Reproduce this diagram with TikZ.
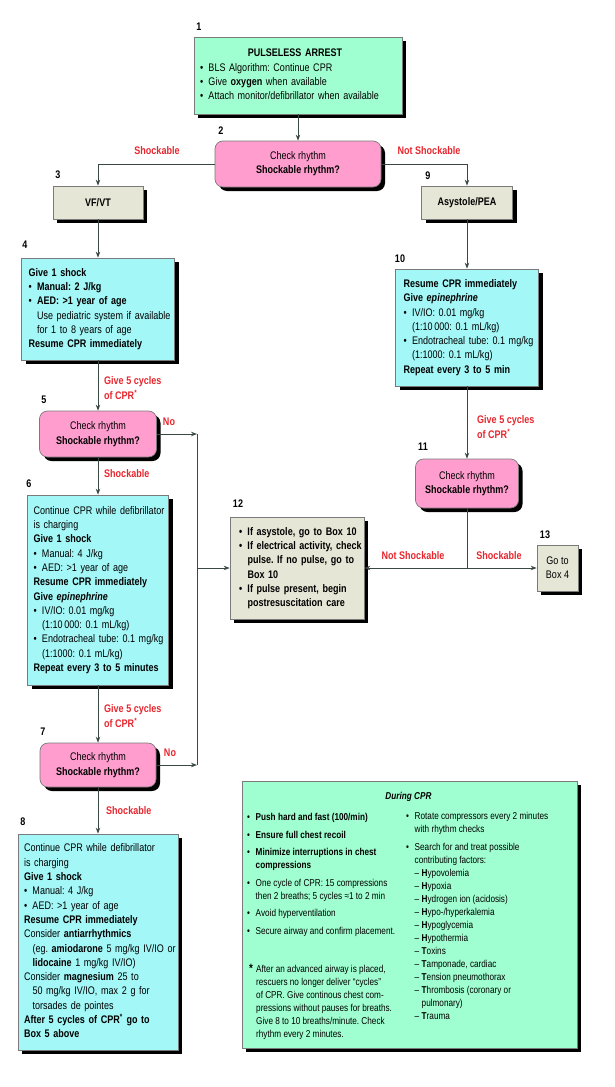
\documentclass[tikz,border=0pt]{standalone}
\usepackage{fontspec}
\setmainfont{Liberation Sans}[FakeStretch=0.82]
\usetikzlibrary{arrows.meta,shadows}
\frenchspacing

\definecolor{mintfill}{HTML}{A0FFD0}
\definecolor{cyanfill}{HTML}{A3F7F7}
\definecolor{pinkfill}{HTML}{FF9ECE}
\definecolor{greyfill}{HTML}{E6E6D6}
\definecolor{edgecol}{HTML}{7A7A7A}
\definecolor{linecol}{HTML}{3A4842}
\definecolor{labelred}{HTML}{E8262E}

\newcommand{\boxfont}{\fontsize{11}{14.3}\selectfont}
\newcommand{\cprfont}{\fontsize{10}{13}\selectfont}
\newcommand{\bul}{\makebox[8.5pt][l]{\textbullet}}
\newcommand{\ind}{\hspace*{8.5pt}}
\newcommand{\dsh}{\makebox[7pt][l]{–}}
\newcommand{\boxrows}[1]{\begin{tabular}{@{}l@{}}#1\end{tabular}}

\tikzset{
  box/.style={draw=edgecol, line width=0.7pt, inner xsep=6pt, inner ysep=0pt,
    align=left, font=\boxfont,
    drop shadow={shadow xshift=4pt, shadow yshift=-4pt, fill=black, opacity=1}},
  mintbox/.style={box, fill=mintfill},
  cyanbox/.style={box, fill=cyanfill},
  greybox/.style={box, fill=greyfill},
  pinkbox/.style={box, fill=pinkfill, rounded corners=8pt, align=center},
  num/.style={inner sep=0pt, font=\boxfont\bfseries},
  redlbl/.style={inner sep=0pt, text=labelred, font=\boxfont\bfseries, align=left},
  link/.style={draw=linecol, line width=0.9pt},
}

\begin{document}
\begin{tikzpicture}[x=1pt, y=-1pt, >={Stealth[length=6pt,width=4.5pt]}]

\useasboundingbox (0,0) rectangle (615,1087);

% box numbers
\node[num] (n1) at (199,27) {1};
\node[num] (n2) at (221,131) {2};
\node[num] (n3) at (58,175) {3};
\node[num] (n9) at (428,176) {9};
\node[num] (n4) at (25,245) {4};
\node[num] (n10) at (400,259) {10};
\node[num] (n5) at (44,400) {5};
\node[num] (n11) at (423,447) {11};
\node[num] (n6) at (29,484) {6};
\node[num] (n12) at (238,504) {12};
\node[num] (n13) at (545,535) {13};
\node[num] (n7) at (43,732) {7};
\node[num] (n8) at (23,822) {8};

% boxes
\node[mintbox, minimum width=208pt, minimum height=77pt, text width=196pt] (arrest) at (298,75.5)
  {\begin{tabular}{@{}p{190pt}@{}}
   \multicolumn{1}{@{}c@{}}{\textbf{PULSELESS ARREST}}\\
   \bul BLS Algorithm: Continue CPR\\
   \bul Give \textbf{oxygen} when available\\
   \bul Attach monitor/defibrillator when available
   \end{tabular}};

\node[pinkbox, minimum width=166pt, minimum height=46pt] (check1) at (298,164)
  {Check rhythm\\\textbf{Shockable rhythm?}};

\node[greybox, minimum width=90pt, minimum height=33pt, align=center] (vfvt) at (98,202.5) {\textbf{VF/VT}};
\node[greybox, minimum width=91pt, minimum height=33pt, align=center] (asys) at (467,202.5) {\textbf{Asystole/PEA}};

\node[cyanbox, minimum width=153pt, minimum height=102pt, inner xsep=7pt, text width=139pt] (shock1) at (98,309)
  {\boxrows{\textbf{Give 1 shock}\\
   \bul\textbf{Manual: 2 J/kg}\\
   \bul\textbf{AED: >1 year of age}\\
   \ind Use pediatric system if available\\
   \ind for 1 to 8 years of age\\
   \textbf{Resume CPR immediately}}};

\node[cyanbox, minimum width=143pt, minimum height=117pt, inner xsep=8pt, text width=127pt] (epi1) at (467,327.5)
  {\boxrows{\textbf{Resume CPR immediately}\\
   \textbf{Give \textit{epinephrine}}\\
   \bul IV/IO: 0.01 mg/kg\\
   \ind(1:10\,000: 0.1 mL/kg)\\
   \bul Endotracheal tube: 0.1 mg/kg\\
   \ind(1:1000: 0.1 mL/kg)\\
   \textbf{Repeat every 3 to 5 min}}};

\node[pinkbox, minimum width=117pt, minimum height=46pt] (check2) at (98,434)
  {Check rhythm\\\textbf{Shockable rhythm?}};

\node[pinkbox, minimum width=103pt, minimum height=49pt] (check4) at (467,483.5)
  {Check rhythm\\\textbf{Shockable rhythm?}};

\node[cyanbox, minimum width=141pt, minimum height=190pt, text width=129pt] (shock2) at (98,590)
  {\boxrows{Continue CPR while defibrillator\\
   is charging\\
   \textbf{Give 1 shock}\\
   \bul Manual: 4 J/kg\\
   \bul AED: >1 year of age\\
   \textbf{Resume CPR immediately}\\
   \textbf{Give \textit{epinephrine}}\\
   \bul IV/IO: 0.01 mg/kg\\
   \ind(1:10\,000: 0.1 mL/kg)\\
   \bul Endotracheal tube: 0.1 mg/kg\\
   \ind(1:1000: 0.1 mL/kg)\\
   \textbf{Repeat every 3 to 5 minutes}}};

\node[greybox, minimum width=134pt, minimum height=102pt, inner xsep=9pt, text width=116pt] (nopulse) at (297,568)
  {\boxrows{\bfseries\bul If asystole, go to Box 10\\
   \bfseries\bul If electrical activity, check\\
   \bfseries\ind pulse. If no pulse, go to\\
   \bfseries\ind Box 10\\
   \bfseries\bul If pulse present, begin\\
   \bfseries\ind postresuscitation care}};

\node[greybox, minimum width=41pt, minimum height=46pt, inner xsep=2pt, align=center] (gobox) at (557.5,568)
  {Go to\\Box 4};

\node[pinkbox, minimum width=116pt, minimum height=44pt] (check3) at (98,765)
  {Check rhythm\\\textbf{Shockable rhythm?}};

\node[cyanbox, minimum width=160pt, minimum height=216pt, text width=148pt] (shock3) at (98,942)
  {\boxrows{Continue CPR while defibrillator\\
   is charging\\
   \textbf{Give 1 shock}\\
   \bul Manual: 4 J/kg\\
   \bul AED: >1 year of age\\
   \textbf{Resume CPR immediately}\\
   Consider \textbf{antiarrhythmics}\\
   \ind(eg. \textbf{amiodarone} 5 mg/kg IV/IO or\\
   \ind\textbf{lidocaine} 1 mg/kg IV/IO)\\
   Consider \textbf{magnesium} 25 to\\
   \ind 50 mg/kg IV/IO, max 2 g for\\
   \ind torsades de pointes\\
   \textbf{After 5 cycles of CPR\textsuperscript{*} go to}\\
   \textbf{Box 5 above}}};

% during CPR panel
\node[mintbox, minimum width=335pt, minimum height=267pt] (duringcpr) at (409.5,914.5) {};
\node[inner sep=0pt, font=\cprfont\bfseries\itshape] (cprtitle) at (408.5,797) {During CPR};
\node[anchor=north west, inner sep=0pt, font=\cprfont] (cprleft) at (247,811.4)
  {\boxrows{\bul\textbf{Push hard and fast (100/min)}\\[4.5pt]
   \bul\textbf{Ensure full chest recoil}\\[4.5pt]
   \bul\textbf{Minimize interruptions in chest}\\
   \ind\textbf{compressions}\\[4.5pt]
   \bul One cycle of CPR: 15 compressions\\
   \ind then 2 breaths; 5 cycles ≈1 to 2 min\\[4.5pt]
   \bul Avoid hyperventilation\\[4.5pt]
   \bul Secure airway and confirm placement.}};
\node[anchor=north west, inner sep=0pt, font=\cprfont] (cprright) at (406,810.4)
  {\boxrows{\bul Rotate compressors every 2 minutes\\
   \ind with rhythm checks\\[5pt]
   \bul Search for and treat possible\\
   \ind contributing factors:\\
   \ind\dsh\textbf{H}ypovolemia\\
   \ind\dsh\textbf{H}ypoxia\\
   \ind\dsh\textbf{H}ydrogen ion (acidosis)\\
   \ind\dsh\textbf{H}ypo-/hyperkalemia\\
   \ind\dsh\textbf{H}ypoglycemia\\
   \ind\dsh\textbf{H}ypothermia\\
   \ind\dsh\textbf{T}oxins\\
   \ind\dsh\textbf{T}amponade, cardiac\\
   \ind\dsh\textbf{T}ension pneumothorax\\
   \ind\dsh\textbf{T}hrombosis (coronary or\\
   \ind\hspace*{7pt}pulmonary)\\
   \ind\dsh\textbf{T}rauma}};
\node[anchor=north west, inner sep=0pt, font=\cprfont] (cprnote) at (249,963.4)
  {\boxrows{\makebox[7pt][l]{\textbf{\large *}}After an advanced airway is placed,\\
   \hspace*{7pt}rescuers no longer deliver “cycles”\\
   \hspace*{7pt}of CPR. Give continous chest com-\\
   \hspace*{7pt}pressions without pauses for breaths.\\
   \hspace*{7pt}Give 8 to 10 breaths/minute. Check\\
   \hspace*{7pt}rhythm every 2 minutes.}};

% connectors
\draw[link,->] (arrest) -- (check1);
\draw[link,->] (check1.west) -| (vfvt.north);
\draw[link,->] (check1.east) -| (asys.north);
\draw[link,->] (vfvt) -- (shock1);
\draw[link,->] (shock1) -- (check2);
\draw[link,->] (check2) -- (shock2);
\draw[link,->] (shock2) -- (check3);
\draw[link,->] (check3) -- (shock3);
\draw[link,->] (asys) -- (epi1);
\draw[link,->] (epi1) -- (check4);

\coordinate (nofrom5) at (197,434);
\coordinate (nofrom7) at (197,765);
\coordinate (tobox12) at (197,568);
\coordinate (split11) at (467,568);

\draw[link,->] (check2.east) -- (nofrom5);
\draw[link,->] (check3.east) -- (nofrom7);
\draw[link] (nofrom5) -- (nofrom7);
\draw[link,->] (tobox12) -- (nopulse.west);
\draw[link] (check4) -- (split11);
\draw[link,->] (split11) -- (nopulse.east);
\draw[link,->] (split11) -- (gobox.west);

% red labels
\node[redlbl] (lshock1) at (157,151) {Shockable};
\node[redlbl] (lnot1) at (429,151) {Not Shockable};
\node[redlbl, anchor=west] (lcycles1) at (104,388) {Give 5 cycles\\of CPR\textsuperscript{*}};
\node[redlbl] (lno1) at (169,422) {No};
\node[redlbl, anchor=west] (lshock2) at (104,474) {Shockable};
\node[redlbl, anchor=west] (lcycles3) at (477,427) {Give 5 cycles\\of CPR\textsuperscript{*}};
\node[redlbl] (lnot2) at (413,556) {Not Shockable};
\node[redlbl] (lshock4) at (499,556) {Shockable};
\node[redlbl, anchor=west] (lcycles2) at (104,716) {Give 5 cycles\\of CPR\textsuperscript{*}};
\node[redlbl] (lno2) at (170,753) {No};
\node[redlbl, anchor=west] (lshock3) at (106,811) {Shockable};

\end{tikzpicture}
\end{document}
